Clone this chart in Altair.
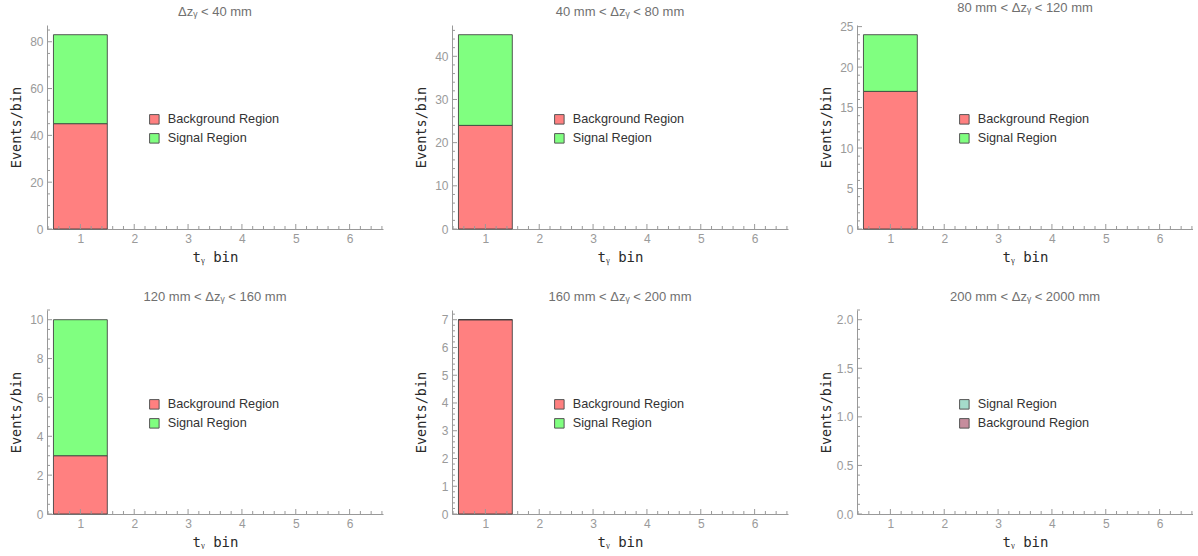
import altair as alt
import numpy as np
import pandas as pd

# ---------------- data ----------------
titles = [
    "Δzᵧ < 40 mm",
    "40 mm < Δzᵧ < 80 mm",
    "80 mm < Δzᵧ < 120 mm",
    "120 mm < Δzᵧ < 160 mm",
    "160 mm < Δzᵧ < 200 mm",
    "200 mm < Δzᵧ < 2000 mm",
]
bin_lo = [0.5]
bin_hi = [1.5]
background = [45, 24, 17, 3, 7]      # events in bin 1, background region
signal = [38, 21, 7, 7, 0]           # events in bin 1, signal region
y_max = [87.15, 47.25, 25.2, 10.5, 7.35, 2.1]
y_major = [
    [0, 20, 40, 60, 80],
    [0, 10, 20, 30, 40],
    [0, 5, 10, 15, 20, 25],
    [0, 2, 4, 6, 8, 10],
    [0, 1, 2, 3, 4, 5, 6, 7],
    [0.0, 0.5, 1.0, 1.5, 2.0],
]
y_minor_step = [5, 2, 1, 0.5, 0.2, 0.1]
y_format = ["d", "d", "d", "d", "d", ".1f"]
x_major = [1, 2, 3, 4, 5, 6]
x_domain = [0.38, 6.62]

RED, GREEN = "#FF8080", "#80FF80"
TEAL, MAUVE = "#A5DBCB", "#C68D9D"

W, H = 336, 204
AXIS_COLOR = "#999999"
LABEL_FONT = "Liberation Sans"
MONO = "DejaVu Sans Mono"


def minor_ticks(lo, hi, step, majors):
    vals = np.round(np.arange(np.ceil(lo / step) * step, hi + 1e-9, step), 6)
    return [float(v) for v in vals if all(abs(v - m) > 1e-6 for m in majors)]


def panel(i):
    xscale = alt.Scale(domain=x_domain, nice=False, zero=False)
    yscale = alt.Scale(domain=[0, y_max[i]], nice=False, zero=True)
    x_axis = alt.Axis(
        values=x_major, format="d", title="tᵧ bin", ticks=False, grid=False,
        domainColor=AXIS_COLOR, labelColor="#9a9a9a", labelFont=LABEL_FONT,
        labelFontSize=12, labelPadding=4, titleFont=MONO, titleFontSize=14,
        titleFontWeight="normal", titleColor="#2a2a2a", titlePadding=5,
        minExtent=16, maxExtent=16)
    y_axis = alt.Axis(
        values=y_major[i], format=y_format[i], title="Events/bin", ticks=False,
        grid=False, domainColor=AXIS_COLOR, labelColor="#9a9a9a",
        labelFont=LABEL_FONT, labelFontSize=12, labelPadding=4,
        titleFont=MONO, titleFontSize=13.5, titleFontWeight="normal",
        titleColor="#2a2a2a", titlePadding=4, minExtent=20, maxExtent=20)

    if i < 5:
        df = pd.DataFrame({
            "lo": bin_lo * 2,
            "hi": bin_hi * 2,
            "region": ["Background Region", "Signal Region"],
            "count": [background[i], signal[i]],
            "ord": [0, 1],
        })
        domain = ["Background Region", "Signal Region"]
        rng = [RED, GREEN]
    else:
        df = pd.DataFrame({"lo": [], "hi": [], "region": [], "count": [], "ord": []})
        domain = ["Signal Region", "Background Region"]
        rng = [TEAL, MAUVE]

    bars = alt.Chart(df).transform_stack(
        stack="count", groupby=["lo"], as_=["y0", "y1"],
        sort=[alt.SortField("ord", order="ascending")],
    ).mark_bar(stroke="#3c3c3c", strokeWidth=1, strokeOpacity=0.85).encode(
        x=alt.X("lo:Q", scale=xscale, axis=x_axis),
        x2="hi:Q",
        y=alt.Y("y0:Q", scale=yscale, axis=y_axis),
        y2="y1:Q",
        color=alt.Color("region:N", scale=alt.Scale(domain=domain, range=rng),
                        legend=alt.Legend(
                            title=None, orient="none", legendX=101, legendY=88,
                            symbolType="square", symbolSize=90,
                            symbolStrokeColor="#555555", symbolStrokeWidth=1,
                            symbolOpacity=1, labelFont=LABEL_FONT,
                            labelFontSize=12.7, labelColor="#333333",
                            labelOffset=7, rowPadding=4, padding=0)),
    )

    xmin = minor_ticks(x_domain[0], x_domain[1], 0.2, x_major)
    ymin = minor_ticks(0, y_max[i], y_minor_step[i], y_major[i])

    xt_major = alt.Chart(pd.DataFrame({"t": x_major})).mark_rule(
        color=AXIS_COLOR, strokeWidth=1).encode(
        x=alt.X("t:Q", scale=xscale, axis=x_axis),
        y=alt.value(H), y2=alt.value(H - 5))
    xt_minor = alt.Chart(pd.DataFrame({"t": xmin})).mark_rule(
        color=AXIS_COLOR, strokeWidth=1).encode(
        x=alt.X("t:Q", scale=xscale, axis=x_axis),
        y=alt.value(H), y2=alt.value(H - 3))
    yt_major = alt.Chart(pd.DataFrame({"t": y_major[i]})).mark_rule(
        color=AXIS_COLOR, strokeWidth=1).encode(
        y=alt.Y("t:Q", scale=yscale, axis=y_axis),
        x=alt.value(0), x2=alt.value(5))
    yt_minor = alt.Chart(pd.DataFrame({"t": ymin})).mark_rule(
        color=AXIS_COLOR, strokeWidth=1).encode(
        y=alt.Y("t:Q", scale=yscale, axis=y_axis),
        x=alt.value(0), x2=alt.value(3))

    return alt.layer(bars, xt_minor, xt_major, yt_minor, yt_major).properties(
        width=W, height=H,
        title=alt.TitleParams(titles[i], font=LABEL_FONT, fontSize=13,
                              fontWeight="normal", color="#707070", offset=6,
                              frame="group", anchor="middle"),
    )


row1 = alt.hconcat(panel(0), panel(1), panel(2), spacing=31).resolve_scale(color="independent")
row2 = alt.hconcat(panel(3), panel(4), panel(5), spacing=31).resolve_scale(color="independent")

chart = alt.vconcat(row1, row2, spacing=26).resolve_scale(
    color="independent"
).properties(
    padding={"left": 9, "top": 1, "right": 0, "bottom": 0},
    background="white",
).configure_view(stroke=None)

chart.save("out.html", embed_options={"renderer": "svg", "actions": False})
